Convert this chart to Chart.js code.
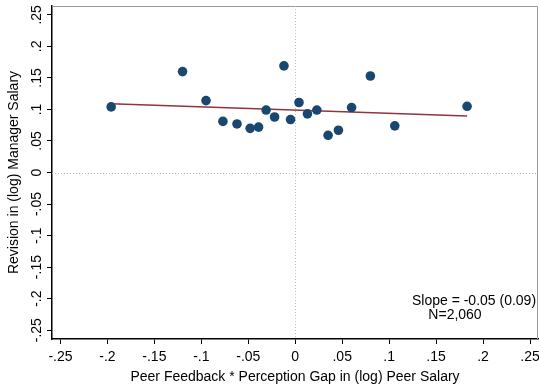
<!DOCTYPE html>
<html>
<head>
<meta charset="utf-8">
<script src="https://cdn.jsdelivr.net/npm/chart.js@4/dist/chart.umd.min.js"></script>
<style>
  html, body { margin: 0; padding: 0; background: #fff; }
  #wrap { width: 539px; height: 388px; }
</style>
</head>
<body>
<div id="wrap"><canvas id="myChart"></canvas></div>
<script>
// binned scatter values
var peerGap = [-0.196, -0.120, -0.095, -0.077, -0.062, -0.048, -0.039, -0.031, -0.022, -0.012,
  -0.005, 0.004, 0.013, 0.023, 0.035, 0.046, 0.060, 0.080, 0.106, 0.183];
var revision = [0.104, 0.160, 0.114, 0.081, 0.077, 0.070, 0.072, 0.099, 0.088, 0.169,
  0.084, 0.111, 0.093, 0.099, 0.059, 0.067, 0.103, 0.153, 0.074, 0.105];

// fitted line end points
var fitX = [-0.196, 0.183];
var fitY = [0.109, 0.0895];

var xTicks = [-0.25, -0.2, -0.15, -0.1, -0.05, 0, 0.05, 0.1, 0.15, 0.2, 0.25];
var yTicks = [-0.25, -0.2, -0.15, -0.1, -0.05, 0, 0.05, 0.1, 0.15, 0.2, 0.25];

var FONT = "'Liberation Sans', Arial, sans-serif";

function fmt(v) {
  var s = String(Math.round(v * 100) / 100);
  return s.replace(/^(-?)0\./, "$1.");
}

var extras = {
  id: "extras",
  beforeDatasetsDraw: function (chart) {
    var c = chart.ctx, a = chart.chartArea;
    var xs = chart.scales.x, ys = chart.scales.y;
    c.save();
    // frame
    c.strokeStyle = "#999";
    c.lineWidth = 1;
    c.beginPath();
    c.moveTo(a.left, a.top + 0.5);
    c.lineTo(a.right - 0.5, a.top + 0.5);
    c.lineTo(a.right - 0.5, a.bottom);
    c.stroke();
    // zero reference lines
    c.strokeStyle = "#bbb";
    c.setLineDash([1, 2]);
    var x0 = Math.round(xs.getPixelForValue(0)) + 0.5;
    var y0 = Math.round(ys.getPixelForValue(0)) + 0.5;
    c.beginPath();
    c.moveTo(x0, a.top); c.lineTo(x0, a.bottom);
    c.moveTo(a.left, y0); c.lineTo(a.right, y0);
    c.stroke();
    c.restore();
  },
  afterDraw: function (chart) {
    var c = chart.ctx, a = chart.chartArea;
    var ys = chart.scales.y;
    c.save();
    c.fillStyle = "#000";
    // y tick labels, rotated like the original
    c.font = "14px " + FONT;
    c.textAlign = "center";
    c.textBaseline = "middle";
    yTicks.forEach(function (v) {
      var py = ys.getPixelForValue(v);
      c.save();
      c.translate(37.5, py);
      c.rotate(-Math.PI / 2);
      c.fillText(fmt(v), 0, 0);
      c.restore();
    });
    // axis titles
    c.save();
    c.translate(14, (a.top + a.bottom) / 2);
    c.rotate(-Math.PI / 2);
    c.fillText("Revision in (log) Manager Salary", 0, 0);
    c.restore();
    c.fillText("Peer Feedback * Perception Gap in (log) Peer Salary", 295, 377);
    // note
    c.fillText("Slope = -0.05 (0.09)", 474, 301);
    c.fillText("N=2,060", 455, 315);
    c.restore();
  }
};

new Chart("myChart", {
  type: "scatter",
  data: {
    datasets: [
      {
        type: "line",
        data: fitX.map(function (x, i) { return { x: x, y: fitY[i] }; }),
        borderColor: "#90353b",
        borderWidth: 1.5,
        pointRadius: 0,
        fill: false,
        order: 2
      },
      {
        data: peerGap.map(function (x, i) { return { x: x, y: revision[i] }; }),
        backgroundColor: "#1a476f",
        borderColor: "#1a476f",
        pointRadius: 4.8,
        borderWidth: 0,
        order: 1
      }
    ]
  },
  options: {
    responsive: true,
    maintainAspectRatio: false,
    animation: false,
    layout: { autoPadding: false, padding: { top: 6, right: 1, left: 0, bottom: 0 } },
    plugins: { legend: { display: false }, tooltip: { enabled: false } },
    scales: {
      x: {
        type: "linear",
        min: -0.259,
        max: 0.2585,
        afterBuildTicks: function (s) { s.ticks = xTicks.map(function (v) { return { value: v }; }); },
        afterFit: function (s) { s.height = 49; s.paddingLeft = 0; s.paddingRight = 0; },
        ticks: {
          color: "#000",
          padding: 5,
          font: { family: FONT, size: 14 },
          maxRotation: 0,
          callback: function (v) { return fmt(v); }
        },
        grid: { drawOnChartArea: false, tickLength: 5, tickColor: "#000", tickWidth: 1 },
        border: { color: "#000", width: 1.5 }
      },
      y: {
        type: "linear",
        min: -0.264,
        max: 0.264,
        afterBuildTicks: function (s) { s.ticks = yTicks.map(function (v) { return { value: v }; }); },
        afterFit: function (s) { s.width = 52; s.paddingTop = 0; s.paddingBottom = 0; },
        ticks: { display: false },
        grid: { drawOnChartArea: false, tickLength: 5, tickColor: "#000", tickWidth: 1 },
        border: { color: "#000", width: 1.5 }
      }
    }
  },
  plugins: [extras]
});
</script>
</body>
</html>
